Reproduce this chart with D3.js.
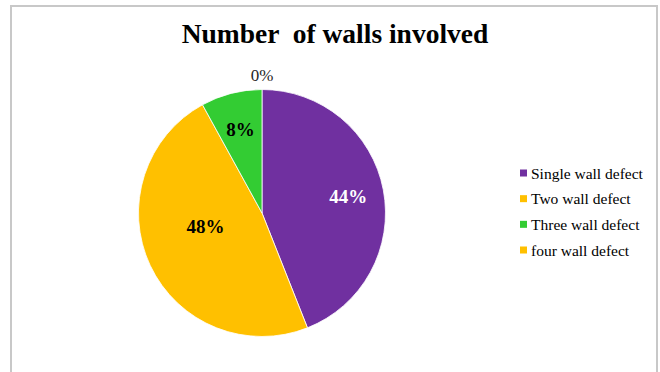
<!DOCTYPE html>
<html>
<head>
<meta charset="utf-8">
<script src="https://cdn.jsdelivr.net/npm/d3@7"></script>
<style>
  body { margin: 0; background: #fff; }
  svg { display: block; }
</style>
</head>
<body>
<svg></svg>
<script>
const width = 660;
const height = 372;
const font = "Liberation Serif";

// data
const categories = ["Single wall defect", "Two wall defect", "Three wall defect", "four wall defect"];
const counts = [11, 12, 2, 0];
const colors = ["#7030A0", "#FFC000", "#33CC33", "#FFC000"];
const labelColors = ["#fff", "#000", "#000", "#262626"];

const svg = d3.select("svg")
  .attr("width", width)
  .attr("height", height);

// chart frame
svg.append("path")
  .attr("d", "M11,372 V6 H657 V372")
  .attr("fill", "none")
  .attr("stroke", "#c8c8c8")
  .attr("stroke-width", 2);

svg.append("text")
  .attr("x", 335)
  .attr("y", 43)
  .attr("text-anchor", "middle")
  .attr("font-family", font)
  .attr("font-size", 27.5)
  .attr("font-weight", "bold")
  .attr("xml:space", "preserve")
  .text("Number  of walls involved");

const cx = 262, cy = 213, r = 123.5;
const total = d3.sum(counts);
const data = categories.map((c, i) => ({ name: c, value: counts[i], i }));

const pie = d3.pie().sort(null).value(d => d.value);
const arc = d3.arc().innerRadius(0).outerRadius(r);
const arcs = pie(data);

const g = svg.append("g").attr("transform", `translate(${cx},${cy})`);

g.selectAll("path.slice")
  .data(arcs.filter(d => d.data.value > 0))
  .join("path")
  .attr("class", "slice")
  .attr("d", arc)
  .attr("fill", d => colors[d.data.i])
  .attr("stroke", "#fff")
  .attr("stroke-width", 0.8);

const pct = d => Math.round(d.data.value / total * 100) + "%";
// best-fit label placement: share of radius, and angle nudge (degrees)
const labelPos = [0.71, 0.47, 0.70];
const labelNudge = [0, 12, 0];

g.selectAll("text.lbl")
  .data(arcs)
  .join("text")
  .attr("class", "lbl")
  .attr("transform", d => {
    if (d.data.value === 0) return `translate(0,${-r - 14})`;
    const rr = r * labelPos[d.data.i];
    const a = (d.startAngle + d.endAngle) / 2 + labelNudge[d.data.i] * Math.PI / 180;
    return `translate(${rr * Math.sin(a)},${-rr * Math.cos(a)})`;
  })
  .attr("text-anchor", "middle")
  .attr("dominant-baseline", "central")
  .attr("font-family", font)
  .attr("font-size", d => d.data.value === 0 ? 17 : 19)
  .attr("font-weight", d => d.data.value === 0 ? "normal" : "bold")
  .attr("fill", d => labelColors[d.data.i])
  .text(pct);

// legend
const legendY = d3.scalePoint().domain(categories).range([173, 250]);
const legend = svg.append("g")
  .selectAll("g")
  .data(data)
  .join("g")
  .attr("transform", d => `translate(520,${legendY(d.name)})`);

legend.append("rect")
  .attr("x", 0)
  .attr("y", -3.5)
  .attr("width", 7)
  .attr("height", 7)
  .attr("fill", d => colors[d.i]);

legend.append("text")
  .attr("x", 11)
  .attr("y", 0)
  .attr("dominant-baseline", "central")
  .attr("font-family", font)
  .attr("font-size", 15.5)
  .attr("fill", "#000")
  .text(d => d.name);
</script>
</body>
</html>
